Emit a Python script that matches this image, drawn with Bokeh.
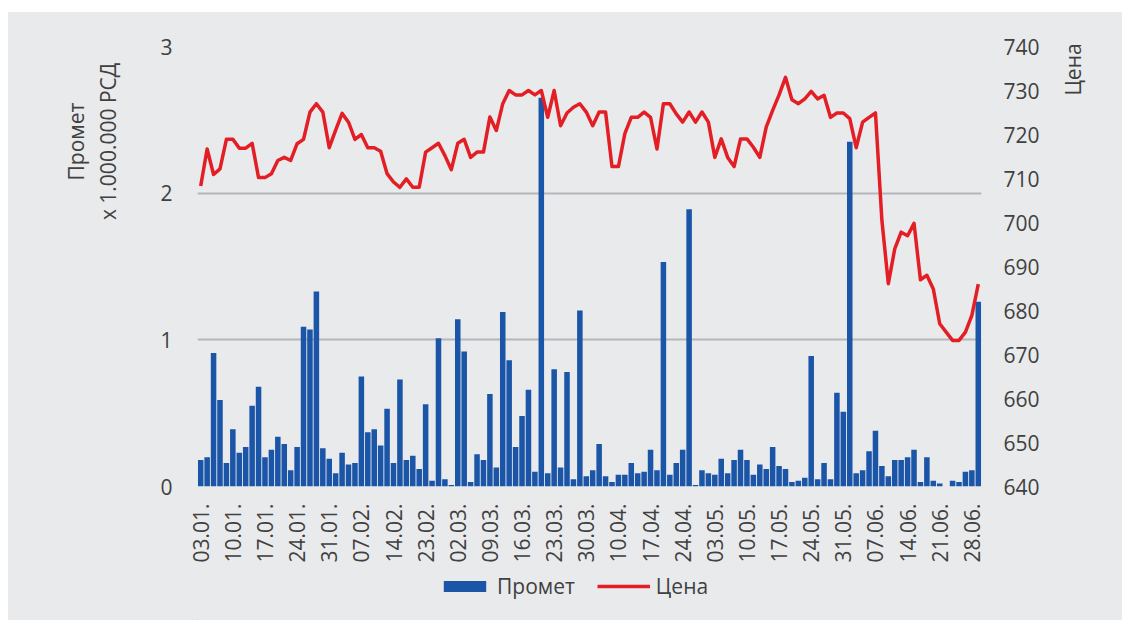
from math import pi
from bokeh.plotting import figure
from bokeh.models import (Range1d, LinearAxis, FixedTicker, Label, Legend, LegendItem,
                          ColumnDataSource, Spacer)
from bokeh.layouts import column, row
from bokeh.embed import file_html
from bokeh.resources import INLINE

# ---- data ----
dates = [
    "03.01.", "04.01.", "05.01.", "08.01.", "09.01.", "10.01.", "11.01.", "12.01.", "15.01.", "16.01.",
    "17.01.", "18.01.", "19.01.", "22.01.", "23.01.", "24.01.", "25.01.", "26.01.", "29.01.", "30.01.",
    "31.01.", "01.02.", "02.02.", "05.02.", "06.02.", "07.02.", "08.02.", "09.02.", "12.02.", "13.02.",
    "14.02.", "19.02.", "20.02.", "21.02.", "22.02.", "23.02.", "26.02.", "27.02.", "28.02.", "01.03.",
    "02.03.", "05.03.", "06.03.", "07.03.", "08.03.", "09.03.", "12.03.", "13.03.", "14.03.", "15.03.",
    "16.03.", "19.03.", "20.03.", "21.03.", "22.03.", "23.03.", "26.03.", "27.03.", "28.03.", "29.03.",
    "30.03.", "02.04.", "03.04.", "04.04.", "05.04.", "10.04.", "11.04.", "12.04.", "13.04.", "16.04.",
    "17.04.", "18.04.", "19.04.", "20.04.", "23.04.", "24.04.", "25.04.", "26.04.", "27.04.", "30.04.",
    "03.05.", "04.05.", "07.05.", "08.05.", "09.05.", "10.05.", "11.05.", "14.05.", "15.05.", "16.05.",
    "17.05.", "18.05.", "21.05.", "22.05.", "23.05.", "24.05.", "25.05.", "28.05.", "29.05.", "30.05.",
    "31.05.", "01.06.", "04.06.", "05.06.", "06.06.", "07.06.", "08.06.", "11.06.", "12.06.", "13.06.",
    "14.06.", "15.06.", "18.06.", "19.06.", "20.06.", "21.06.", "22.06.", "25.06.", "26.06.", "27.06.",
    "28.06.", "29.06.",
]

promet = [
    0.18, 0.20, 0.91, 0.59, 0.16, 0.39, 0.23, 0.27, 0.55, 0.68,
    0.20, 0.25, 0.34, 0.29, 0.11, 0.27, 1.09, 1.07, 1.33, 0.26,
    0.19, 0.09, 0.23, 0.15, 0.16, 0.75, 0.37, 0.39, 0.28, 0.53,
    0.16, 0.73, 0.18, 0.21, 0.12, 0.56, 0.04, 1.01, 0.05, 0.01,
    1.14, 0.92, 0.03, 0.22, 0.18, 0.63, 0.13, 1.19, 0.86, 0.27,
    0.48, 0.66, 0.10, 2.65, 0.09, 0.80, 0.13, 0.78, 0.05, 1.20,
    0.07, 0.11, 0.29, 0.07, 0.03, 0.08, 0.08, 0.16, 0.09, 0.10,
    0.25, 0.11, 1.53, 0.08, 0.16, 0.25, 1.89, 0.01, 0.11, 0.09,
    0.08, 0.19, 0.09, 0.18, 0.25, 0.18, 0.08, 0.15, 0.12, 0.27,
    0.14, 0.12, 0.03, 0.04, 0.06, 0.89, 0.05, 0.16, 0.05, 0.64,
    0.51, 2.35, 0.09, 0.11, 0.24, 0.38, 0.14, 0.07, 0.18, 0.18,
    0.20, 0.25, 0.03, 0.20, 0.04, 0.02, 0.00, 0.04, 0.03, 0.10,
    0.11, 1.26,
]

cena = [
    708.3, 716.7, 710.9, 712.2, 718.9, 718.9, 716.9, 716.9, 718.0, 710.2,
    710.2, 711.1, 714.1, 714.8, 714.1, 717.9, 718.9, 725.1, 727.0, 725.1,
    717.0, 721.0, 724.8, 722.8, 718.9, 720.0, 717.0, 717.0, 716.2, 711.1,
    709.2, 708.0, 709.9, 708.0, 708.0, 716.0, 717.0, 718.0, 715.2, 712.0,
    718.0, 718.9, 714.8, 716.0, 716.0, 724.0, 720.9, 727.0, 730.0, 729.0,
    729.0, 730.0, 729.0, 730.0, 723.9, 730.0, 722.0, 724.9, 726.2, 727.0,
    725.1, 722.0, 725.1, 725.1, 712.7, 712.7, 720.2, 723.9, 723.9, 725.1,
    723.9, 716.7, 727.0, 727.0, 724.7, 722.8, 725.1, 722.8, 725.1, 722.8,
    714.8, 719.0, 714.8, 712.7, 719.0, 719.0, 717.1, 714.8, 721.7, 725.5,
    729.0, 733.0, 727.9, 727.0, 728.1, 729.8, 728.1, 728.9, 723.9, 724.9,
    724.9, 723.6, 717.0, 722.8, 723.9, 724.9, 700.5, 686.1, 694.0, 697.8,
    697.0, 699.8, 687.0, 688.0, 684.9, 677.0, 675.1, 673.2, 673.2, 675.1,
    678.9, 686.0,
]

left_ticks = [0, 1, 2, 3]
right_ticks = [640, 650, 660, 670, 680, 690, 700, 710, 720, 730, 740]

# ---- styling ----
BG = "#e9eaec"
TXT = "#404040"
FONT = "Open Sans"
FS = "21px"
BLUE = "#1b55a7"
RED = "#e31e25"
H = 608
MAIN_W = 900
MAIN_H = 558
LEG_H = H - MAIN_H

idx = list(range(len(dates)))
src = ColumnDataSource(dict(x=idx, promet=promet, cena=cena))

# ---- main chart ----
p = figure(width=MAIN_W, height=MAIN_H, output_backend="svg", toolbar_location=None,
           x_range=Range1d(-0.5, len(dates) - 0.5), y_range=Range1d(0, 3),
           min_border_left=47, min_border_right=69, min_border_top=34, min_border_bottom=84,
           background_fill_color=BG, border_fill_color=BG, outline_line_color=None)
p.extra_y_ranges = {"price": Range1d(640, 740)}

label_ticks = idx[::5]
p.xaxis.ticker = FixedTicker(ticks=label_ticks)
p.xaxis.major_label_overrides = {i: dates[i] for i in label_ticks}
p.xaxis.major_label_orientation = pi / 2
p.xaxis.major_label_standoff = 17

p.yaxis.ticker = FixedTicker(ticks=left_ticks)
p.yaxis.major_label_standoff = 25

right = LinearAxis(y_range_name="price", ticker=FixedTicker(ticks=right_ticks))
right.major_label_standoff = 22
p.add_layout(right, "right")

for ax in p.xaxis + p.yaxis + [right]:
    ax.axis_line_color = None
    ax.major_tick_line_color = None
    ax.minor_tick_line_color = None
    ax.major_tick_out = 0
    ax.major_tick_in = 0
    ax.major_label_text_font = FONT
    ax.major_label_text_font_size = FS
    ax.major_label_text_color = TXT

p.xgrid.visible = False
p.ygrid.ticker = FixedTicker(ticks=left_ticks)
p.ygrid.grid_line_color = "#b3b6bb"
p.ygrid.grid_line_width = 2

p.vbar(x="x", top="promet", width=0.86, source=src, fill_color=BLUE, line_color=None)
p.line(x="x", y="cena", source=src, y_range_name="price",
       line_color=RED, line_width=3.5, line_join="round")


def side_fig(w, h):
    return figure(width=w, height=h, output_backend="svg", toolbar_location=None,
                  x_range=Range1d(0, w), y_range=Range1d(0, h),
                  x_axis_type=None, y_axis_type=None, min_border=0,
                  background_fill_color=BG, border_fill_color=BG, outline_line_color=None)


# legend strip under the chart (swatches styled like the series)
lg = side_fig(MAIN_W, LEG_H)
lb = lg.vbar(x=[-50], top=[1], width=1, fill_color=BLUE, line_color=None)
ll = lg.line(x=[-50, -40], y=[1, 1], line_color=RED, line_width=3.5)
legend = Legend(items=[LegendItem(label="Промет", renderers=[lb]),
                       LegendItem(label="Цена", renderers=[ll])],
                orientation="horizontal", location=(241, 20),
                background_fill_alpha=0, border_line_color=None,
                padding=4, margin=0, spacing=22, label_standoff=6,
                glyph_width=53, glyph_height=14,
                label_text_font=FONT, label_text_font_size=FS, label_text_color=TXT)
lg.add_layout(legend)

# left titles (positions in local pixels, y from bottom)
lf = side_fig(142, H)
for txt, cx in [("Промет", 67), ("x 1.000.000 РСД", 99)]:
    lf.add_layout(Label(x=cx, y=H - 129, text=txt, angle=pi / 2,
                        text_align="center", text_baseline="middle",
                        text_font=FONT, text_font_size=FS, text_color=TXT))

rf = side_fig(72, H)
rf.add_layout(Label(x=22, y=H - 57, text="Цена", angle=pi / 2,
                    text_align="center", text_baseline="middle",
                    text_font=FONT, text_font_size=FS, text_color=TXT))

bgstyle = {"background-color": BG}
mid = column(p, lg, styles=bgstyle)
panel = row(lf, mid, rf, styles=bgstyle)
layout = column(Spacer(width=1122, height=12),
                row(Spacer(width=8, height=H), panel))
open("out.html", "w").write(file_html(layout, INLINE))
